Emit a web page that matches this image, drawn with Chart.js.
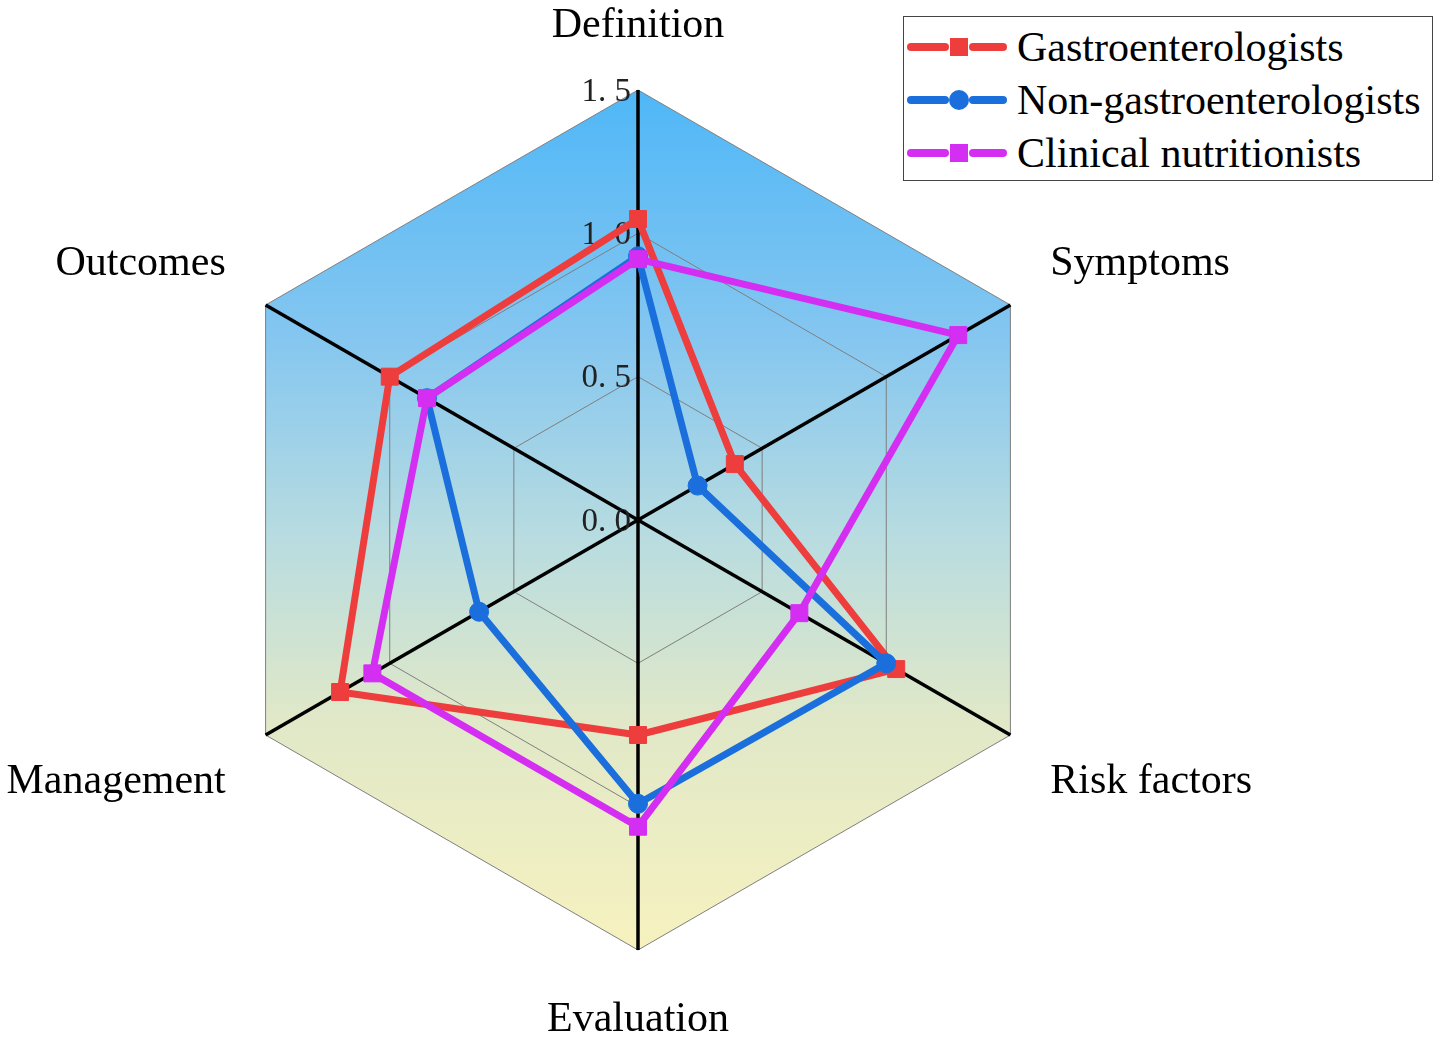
<!DOCTYPE html>
<html>
<head>
<meta charset="utf-8">
<script src="https://cdn.jsdelivr.net/npm/chart.js@4/dist/chart.umd.min.js"></script>
<style>
  html, body { margin: 0; padding: 0; background: #ffffff; }
  #wrap { position: relative; width: 1441px; height: 1040px; }
  #legend {
    position: absolute; left: 903px; top: 16px; width: 528px; height: 163px;
    border: 1.5px solid #444; background: #ffffff; box-sizing: content-box;
    font-family: 'Liberation Serif', 'Times New Roman', serif; font-size: 42px; color: #000;
  }
  .row { position: absolute; left: 0; height: 53px; display: flex; align-items: center; white-space: nowrap; }
  .row svg { margin-left: 3px; margin-right: 10px; }
</style>
</head>
<body>
<div id="wrap">
  <canvas id="c" width="1441" height="1040"></canvas>
  <div id="legend"></div>
</div>
<script>
// ---- data ----
const categories = ['Definition', 'Symptoms', 'Risk factors', 'Evaluation', 'Management', 'Outcomes'];
const seriesNames = ['Gastroenterologists', 'Non-gastroenterologists', 'Clinical nutritionists'];
const gastroenterologists = [1.05, 0.39, 1.04, 0.75, 1.20, 1.00];
const nonGastroenterologists = [0.92, 0.24, 1.00, 0.99, 0.64, 0.85];
const clinicalNutritionists = [0.91, 1.29, 0.65, 1.07, 1.07, 0.85];
const tickValues = [0.0, 0.5, 1.0, 1.5];

// ---- styles ----
const seriesColors = ['#ee3d3d', '#1a6fdc', '#d42ef2'];
const seriesMarkers = ['rect', 'circle', 'rect'];
const seriesRadius = [12, 9.5, 12];
const FONT = "'Liberation Serif', 'Times New Roman', serif";

const canvas = document.getElementById('c');
const ctx0 = canvas.getContext('2d');
const grad = ctx0.createLinearGradient(0, 90, 0, 950);
grad.addColorStop(0, '#4fb7f7');
grad.addColorStop(0.285, '#84c6f0');
grad.addColorStop(0.52, '#b8dce0');
grad.addColorStop(0.73, '#e0e8c8');
grad.addColorStop(1, '#f7f2bf');

const labelPlugin = {
  id: 'labelPlugin',
  beforeDatasetsDraw(chart) {
    const s = chart.scales.r;
    const ctx = chart.ctx;
    ctx.save();
    // tick labels
    ctx.font = '33px ' + FONT;
    ctx.fillStyle = '#222';
    ctx.textAlign = 'right';
    ctx.textBaseline = 'middle';
    tickValues.forEach(v => {
      const d = s.getDistanceFromCenterForValue(v);
      ctx.fillText(v.toFixed(1).replace('.', '. '), s.xCenter - 7, s.yCenter - d + 2);
    });
    // point labels
    ctx.font = '42px ' + FONT;
    ctx.fillStyle = '#000';
    const pad = 46, hh = 21, shift = 3;
    categories.forEach((lab, i) => {
      const p = s.getPointPosition(i, s.drawingArea + pad);
      const deg = Math.round((((p.angle + Math.PI / 2) % (2 * Math.PI)) + 2 * Math.PI) % (2 * Math.PI) * 180 / Math.PI);
      let x = p.x, y = p.y + shift;
      if (deg === 0) { ctx.textAlign = 'center'; y -= hh; }
      else if (deg === 180) { ctx.textAlign = 'center'; y += hh; }
      else if (deg < 180) { ctx.textAlign = 'left'; y += (deg < 90 ? -hh : hh); }
      else { ctx.textAlign = 'right'; y += (deg > 270 ? -hh : hh); }
      ctx.fillText(lab, x, y);
    });
    ctx.restore();
  }
};

const seriesData = [gastroenterologists, nonGastroenterologists, clinicalNutritionists];
const datasets = seriesData.map((d, i) => ({
  label: seriesNames[i],
  data: d,
  borderColor: seriesColors[i],
  backgroundColor: seriesColors[i],
  pointBackgroundColor: seriesColors[i],
  pointBorderColor: seriesColors[i],
  pointBorderWidth: 1,
  borderWidth: 7,
  borderCapStyle: 'round',
  borderJoinStyle: 'round',
  pointStyle: seriesMarkers[i],
  pointRadius: seriesRadius[i],
  pointHoverRadius: seriesRadius[i],
  fill: false,
  tension: 0,
  order: 3 - i
}));

new Chart(canvas, {
  type: 'radar',
  data: { labels: categories, datasets },
  options: {
    responsive: false,
    animation: false,
    layout: { padding: { left: 208, right: 373, top: 90, bottom: 90 } },
    plugins: { legend: { display: false }, tooltip: { enabled: false } },
    scales: {
      r: {
        min: 0, max: 1.5,
        startAngle: 0,
        backgroundColor: grad,
        ticks: { display: false, stepSize: 0.5 },
        pointLabels: { display: false },
        grid: { color: '#7f7f7f', lineWidth: 1, circular: false },
        angleLines: { color: '#000', lineWidth: 3.5 }
      }
    }
  },
  plugins: [labelPlugin]
});

// ---- HTML legend ----
const legend = document.getElementById('legend');
seriesNames.forEach((name, i) => {
  const row = document.createElement('div');
  row.className = 'row';
  row.style.top = (3 + i * 53) + 'px';
  const c = seriesColors[i];
  const marker = seriesMarkers[i] === 'circle'
    ? `<circle cx="52" cy="15" r="10" fill="${c}"/>`
    : `<rect x="43" y="6" width="18" height="18" fill="${c}"/>`;
  row.innerHTML = `<svg width="100" height="30"><line x1="4" y1="15" x2="38" y2="15" stroke="${c}" stroke-width="8" stroke-linecap="round"/><line x1="66" y1="15" x2="96" y2="15" stroke="${c}" stroke-width="8" stroke-linecap="round"/>${marker}</svg><span>${name}</span>`;
  legend.appendChild(row);
});
</script>
</body>
</html>
